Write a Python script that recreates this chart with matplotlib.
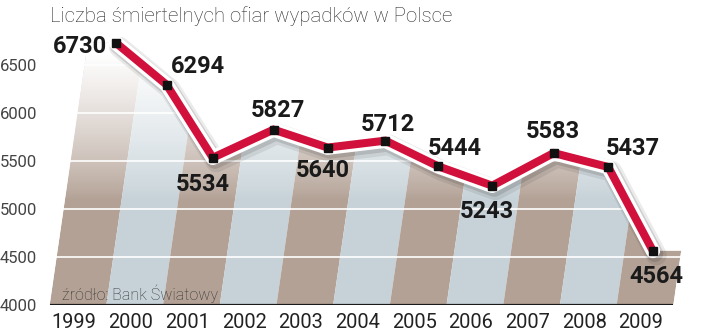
import matplotlib
matplotlib.use("Agg")
import matplotlib.pyplot as plt
import matplotlib.patheffects as pe
import matplotlib.transforms as mtransforms
from matplotlib.patches import Polygon
import numpy as np

# data
years = ["1999", "2000", "2001", "2002", "2003", "2004",
         "2005", "2006", "2007", "2008", "2009"]
deaths = [6730, 6294, 5534, 5827, 5640, 5712, 5444, 5243, 5583, 5437, 4564]
y_ticks = [4000, 4500, 5000, 5500, 6000, 6500]
title = "Liczba śmiertelnych ofiar wypadków w Polsce"
source = "źródło: Bank Światowy"

# where each value label sits relative to its marker (pixels)
label_offsets = [(-9, -4, "right"), (31, 18, "center"), (-10, -27, "center"),
                 (4, 19, "center"), (-5, -23, "center"), (3, 16, "center"),
                 (16, 18, "center"), (-5, -26, "center"), (-1, 22, "center"),
                 (25, 19, "center"), (4, -26, "center")]

brown = "#b3a195"
light = "#c6d2d8"
red = "#d2103c"

fig = plt.figure(figsize=(7.2, 3.34), dpi=100)
ax = fig.add_axes([42 / 720, 29 / 334, 678 / 720, 278 / 334])
base = 4000
ymax = base + 278 / 48 * 500
step = 56.7
xlim = ((42 - 78) / step, (720 - 78) / step)

# slant of the stripes: x shift per unit of value
slant = 0.145 * (48 / 500) / step


def sk(x, v):
    return x + slant * (v - base)


n = len(deaths)
xs = [sk(i, v) for i, v in enumerate(deaths)]

# area under the line
area_pts = [(-0.5, base), (sk(-0.5, deaths[0]), deaths[0])]
area_pts += list(zip(xs, deaths))
area_pts += [(sk(n - 0.5, deaths[-1]), deaths[-1]), (n - 0.5, base)]
area = Polygon(area_pts, closed=True, facecolor="none", edgecolor="none")
ax.add_patch(area)

for i in range(n):
    col = brown if i % 2 == 0 else light
    stripe = Polygon([(i - 0.5, base), (i + 0.5, base),
                      (sk(i + 0.5, ymax), ymax), (sk(i - 0.5, ymax), ymax)],
                     closed=True, facecolor=col, edgecolor="none", zorder=1)
    ax.add_patch(stripe)
    stripe.set_clip_path(area)

# fade to white towards the top
vv = np.linspace(base, ymax, 300)
alpha = np.clip((vv - 5100) / (6600 - 5100), 0, 1) ** 0.8
grad = np.ones((len(vv), 1, 4))
grad[:, 0, 3] = alpha
im = ax.imshow(grad, extent=[xlim[0], xlim[1], base, ymax], origin="lower",
               aspect="auto", zorder=2, interpolation="bilinear")
im.set_clip_path(area)

for t in y_ticks[1:]:
    ax.axhline(t, color="white", lw=1.2, zorder=3)
ax.plot([-0.5, n - 0.5], [base, base], color="#1a1a1a", lw=1.6, zorder=4,
        solid_capstyle="butt")

ax.plot(xs, deaths, color="white", lw=10.5, zorder=5, solid_capstyle="round",
        solid_joinstyle="round",
        path_effects=[pe.SimpleLineShadow(offset=(2.5, -3), shadow_color="k",
                                          alpha=0.08, linewidth=15),
                      pe.SimpleLineShadow(offset=(1.5, -2), shadow_color="k",
                                          alpha=0.12, linewidth=12),
                      pe.Normal()])
ax.plot(xs, deaths, color=red, lw=5.8, zorder=6, solid_capstyle="butt",
        solid_joinstyle="miter")
ax.plot(xs, deaths, "s", color="#111111", ms=6, zorder=7)

for x, v, (dx, dy, ha) in zip(xs, deaths, label_offsets):
    ax.annotate(str(v), (x, v), xytext=(dx, dy), textcoords="offset pixels",
                ha=ha, va="center", fontsize=17, fontweight="bold",
                family="Roboto", color="#1a1a1a", zorder=8)

ax.set_xlim(*xlim)
ax.set_ylim(base, ymax)
for s in ax.spines.values():
    s.set_visible(False)

ax.set_yticks(y_ticks)
ax.set_yticklabels([str(t) for t in y_ticks], fontsize=12, family="Roboto",
                   color="#444444")
shift = mtransforms.ScaledTranslation(0, 7 / 100, fig.dpi_scale_trans)
for lbl in ax.get_yticklabels():
    lbl.set_transform(lbl.get_transform() + shift)
ax.set_xticks([i - 0.07 for i in range(n)])
ax.set_xticklabels(years, fontsize=14.4, family="Roboto", color="#222222")
ax.tick_params(length=0)
ax.tick_params(axis="y", pad=3.6)
ax.tick_params(axis="x", pad=5.5)

fig.text(50 / 720, 1 - 22 / 334, title, fontsize=14.7, family="Roboto",
         fontweight="light", color="#2a2a2a", va="baseline")
fig.text(62 / 720, 1 - 300 / 334, source, fontsize=11.5, family="Roboto",
         fontweight="light", color="#333333", va="baseline", zorder=9)

fig.savefig("out.png", dpi=100)
